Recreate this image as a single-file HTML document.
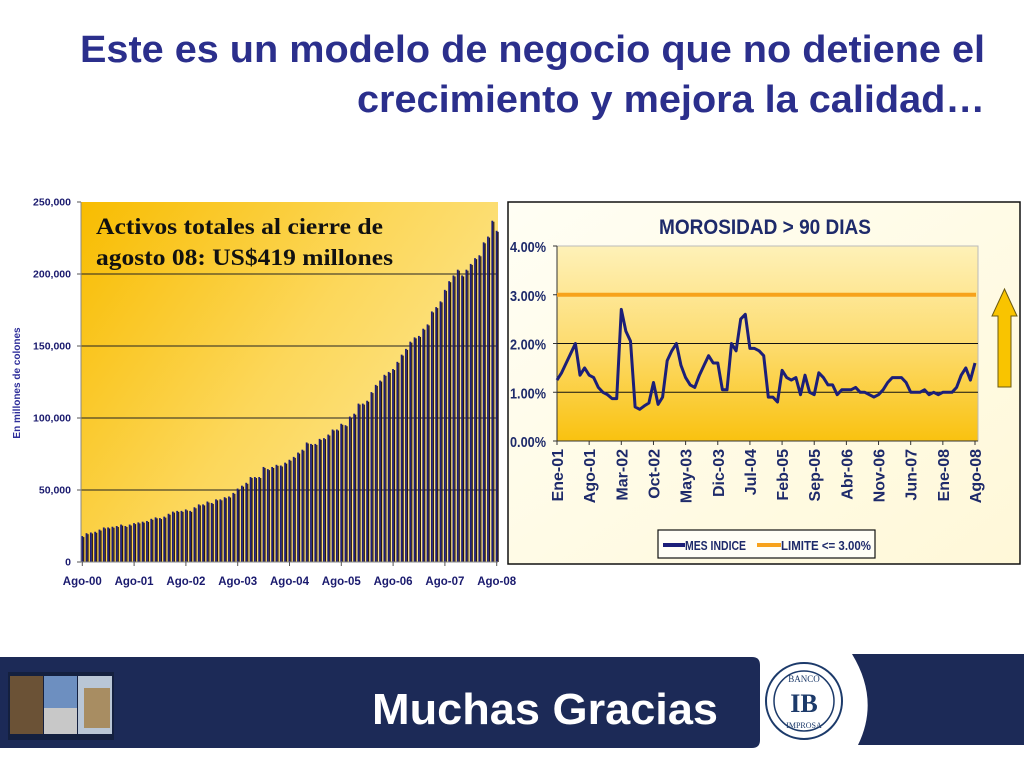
<!DOCTYPE html>
<html><head><meta charset="utf-8">
<style>
body{margin:0;width:1024px;height:768px;overflow:hidden;background:#fff;font-family:"Liberation Sans",sans-serif;position:relative}
</style></head><body>

<svg width="1024" height="768" style="position:absolute;left:0;top:0">
<defs>
<linearGradient id="lg" x1="0" y1="0" x2="1" y2="0.6"><stop offset="0" stop-color="#f8bc00"/><stop offset="0.55" stop-color="#fcd75a"/><stop offset="1" stop-color="#fde690"/></linearGradient>
<linearGradient id="rg" x1="0" y1="0" x2="0" y2="1"><stop offset="0" stop-color="#fef1b8"/><stop offset="0.5" stop-color="#fddc70"/><stop offset="1" stop-color="#f9c210"/></linearGradient>
<linearGradient id="og" x1="0" y1="0" x2="1" y2="1"><stop offset="0" stop-color="#fffef4"/><stop offset="1" stop-color="#fff8d8"/></linearGradient>
</defs>
<text x="985" y="62" text-anchor="end" font-family="Liberation Sans" font-weight="bold" font-size="38" fill="#2b2f8c" textLength="905" lengthAdjust="spacingAndGlyphs">Este es un modelo de negocio que no detiene el</text>
<text x="985" y="112" text-anchor="end" font-family="Liberation Sans" font-weight="bold" font-size="38" fill="#2b2f8c" textLength="628" lengthAdjust="spacingAndGlyphs">crecimiento y mejora la calidad…</text>
<g id="left"></g>
<g id="right"></g>
<polygon points="998,387 1011,387 1011,316 1017,316 1004.5,289 992,316 998,316" fill="#f9c400" stroke="#6b5a10" stroke-width="1"/>
<!-- footer -->
<path d="M0,657 H752 Q760,657 760,665 V740 Q760,748 752,748 H0 Z" fill="#1c2a57"/>
<path d="M852,654 H1024 V745 H858 Q880,700 852,654 Z" fill="#1c2a57"/>
<rect x="8" y="672" width="106" height="68" fill="#14203f"/>
<rect x="10" y="676" width="33" height="58" fill="#6b5236"/>
<rect x="44" y="676" width="33" height="58" fill="#6d8fc0"/>
<rect x="44" y="708" width="33" height="26" fill="#c8c8c8"/>
<rect x="78" y="676" width="34" height="58" fill="#b9c6d6"/>
<rect x="84" y="688" width="26" height="40" fill="#a88d62"/>
<text x="545" y="724" text-anchor="middle" font-family="Liberation Sans" font-weight="bold" font-size="44" fill="#fff" textLength="346" lengthAdjust="spacingAndGlyphs">Muchas Gracias</text>
<g>
<circle cx="804" cy="701" r="38" fill="#fff" stroke="#1c3a6a" stroke-width="2"/>
<circle cx="804" cy="701" r="30" fill="none" stroke="#1c3a6a" stroke-width="1.5"/>
<text x="804" y="682" text-anchor="middle" font-size="9" fill="#1c3a6a" font-family="Liberation Serif">BANCO</text>
<text x="804" y="712" text-anchor="middle" font-size="26" font-weight="bold" fill="#1c3a6a" font-family="Liberation Serif">IB</text>
<text x="804" y="728" text-anchor="middle" font-size="8" fill="#1c3a6a" font-family="Liberation Serif">IMPROSA</text>
</g>
</svg>

<script>
const NS='http://www.w3.org/2000/svg';
function mk(p,tag,a,txt){const e=document.createElementNS(NS,tag);for(const k in a)e.setAttribute(k,a[k]);if(txt!==undefined)e.textContent=txt;p.appendChild(e);return e;}

// ---- Left chart data (thousands of millones de colones) ----
const assetValues=[18,20,20.5,21,22.5,24,24,24.5,25,26,25,26,
27,27.5,28,28.5,30,31,30.5,31.5,33.5,35,35.5,35.5,
36.5,35.5,38,40,40,42,41,43.5,43.5,45,45.5,48,
51,53,55,59,59,59,66,64.5,66,67.5,67,69,
71,73,76,78,83,82,82,85.5,86,88.5,92,92,
96,95,101,103,110,110,112,118,123,126,130,132,
134,139,144,148,153,156,157,162,165,174,177,181,
189,195,199,203,199,203,207,211,213,222,226,237,
230];
const assetYTicks=[0,50,100,150,200,250];
const assetYTickLabels=['0','50,000','100,000','150,000','200,000','250,000'];
const assetXLabels=['Ago-00','Ago-01','Ago-02','Ago-03','Ago-04','Ago-05','Ago-06','Ago-07','Ago-08'];

// ---- Right chart data (%) ----
const morosidad=[1.25,1.4,1.6,1.8,2.0,1.35,1.5,1.35,1.3,1.1,1.0,0.95,
0.87,0.87,2.7,2.25,2.05,0.7,0.65,0.72,0.78,1.2,0.75,0.9,
1.65,1.85,2.0,1.55,1.3,1.15,1.1,1.35,1.55,1.75,1.6,1.6,
1.05,1.05,2.0,1.85,2.5,2.6,1.9,1.9,1.85,1.75,0.9,0.9,
0.8,1.45,1.3,1.25,1.3,0.95,1.35,1.0,0.95,1.4,1.3,1.15,
1.15,0.95,1.05,1.05,1.05,1.1,1.0,1.0,0.95,0.9,0.95,1.05,
1.2,1.3,1.3,1.3,1.2,1.0,1.0,1.0,1.05,0.95,1.0,0.95,
1.0,1.0,1.0,1.1,1.35,1.5,1.25,1.6];
const limite=3.0;
const morYTicks=[0,1,2,3,4];
const morYLabels=['0.00%','1.00%','2.00%','3.00%','4.00%'];
const morXLabels=['Ene-01','Ago-01','Mar-02','Oct-02','May-03','Dic-03','Jul-04','Feb-05','Sep-05','Abr-06','Nov-06','Jun-07','Ene-08','Ago-08'];

// Left chart
(function(){
const g=document.getElementById('left');
const x0=81,x1=498,yT=202,yB=562;
const ys=v=>yB-(v/250)*(yB-yT);
const xs=i=>82.3+i*(496.7-82.3)/(assetValues.length-1);
const bg=mk(g,'rect',{x:x0,y:yT,width:x1-x0,height:yB-yT,fill:'url(#lg)'});

assetYTicks.forEach((t,i)=>{
  if(t>0&&t<250){const l=mk(g,'line',{x1:x0,x2:x1,y1:ys(t),y2:ys(t),stroke:'#222','stroke-width':1});
  }
  mk(g,'line',{x1:x0-4,x2:x0,y1:ys(t),y2:ys(t),stroke:'#555'});
  const tx=mk(g,'text',{x:x0-10,y:ys(t)+3.5,'text-anchor':'end','font-size':10.5,'font-weight':'bold',fill:'#1a1a6e'},assetYTickLabels[i]);
  
});
assetValues.forEach((v,i)=>{
  const x=xs(i);
  const s=mk(g,'rect',{x:x+0.8,y:ys(v)+1,width:1.2,height:yB-ys(v)-1,fill:'#2a1a0a'});
  
  const b=mk(g,'rect',{x:x-1,y:ys(v),width:1.8,height:yB-ys(v),fill:'#1c1d7a'});
  
});
mk(g,'line',{x1:x0,x2:x0,y1:yT,y2:yB,stroke:'#888'});
mk(g,'line',{x1:x0,x2:x1,y1:yB,y2:yB,stroke:'#888'});
assetXLabels.forEach((l,i)=>{
  const x=xs(i*12);
  mk(g,'line',{x1:x,x2:x,y1:yB,y2:yB+4,stroke:'#555'});
  const tx=mk(g,'text',{x:x,y:585,'text-anchor':'middle','font-size':11.5,'font-weight':'bold',fill:'#1a1a6e'},l);
  
});
const yt=mk(g,'text',{x:0,y:0,transform:'translate(20,383) rotate(-90)','text-anchor':'middle','font-size':10,'font-weight':'bold',fill:'#2e2e9a'},'En millones de colones');

const a1=mk(g,'text',{x:96,y:234,'font-family':'Liberation Serif','font-weight':'bold','font-size':23,fill:'#111',textLength:287,lengthAdjust:'spacingAndGlyphs'},'Activos totales al cierre de');

const a2=mk(g,'text',{x:96,y:265,'font-family':'Liberation Serif','font-weight':'bold','font-size':23,fill:'#111',textLength:297,lengthAdjust:'spacingAndGlyphs'},'agosto 08: US$419 millones');

})();

// Right chart
(function(){
const g=document.getElementById('right');
const x0=557,x1=978,yT=246,yB=441;
const ys=v=>yB-(v/4)*(yB-yT);
const xs=i=>x0+i*(975-x0)/(morosidad.length-1);
const ob=mk(g,'rect',{x:508,y:202,width:512,height:362,fill:'url(#og)',stroke:'#111','stroke-width':1.5});

const tt=mk(g,'text',{x:765,y:234,'text-anchor':'middle','font-size':21,'font-weight':'bold',fill:'#1e2a6a',textLength:212,lengthAdjust:'spacingAndGlyphs'},'MOROSIDAD > 90 DIAS');

const pa=mk(g,'rect',{x:x0,y:yT,width:x1-x0,height:yB-yT,fill:'url(#rg)',stroke:'#bbb'});

morYTicks.forEach((t,i)=>{
  if(t===1||t===2){const l=mk(g,'line',{x1:x0,x2:x1,y1:ys(t),y2:ys(t),stroke:'#111','stroke-width':1});
  }
  mk(g,'line',{x1:x0-4,x2:x0,y1:ys(t),y2:ys(t),stroke:'#333'});
  const tx=mk(g,'text',{x:546,y:ys(t)+6,'text-anchor':'end','font-size':15,'font-weight':'bold',fill:'#1e2a6a',textLength:36,lengthAdjust:'spacingAndGlyphs'},morYLabels[i]);
  
});
mk(g,'line',{x1:x0,x2:x0,y1:yT,y2:yB,stroke:'#333'});
mk(g,'line',{x1:x0,x2:x1,y1:yB,y2:yB,stroke:'#333'});
const lim=mk(g,'line',{x1:x0,x2:x1-2,y1:ys(limite),y2:ys(limite),stroke:'#f7a21b','stroke-width':4});

const pts=morosidad.map((v,i)=>xs(i).toFixed(1)+','+ys(v).toFixed(1)).join(' ');
const pl=mk(g,'polyline',{points:pts,fill:'none',stroke:'#1c1f78','stroke-width':3,'stroke-linejoin':'round'});

morXLabels.forEach((l,i)=>{
  const x=xs(i*7);
  mk(g,'line',{x1:x,x2:x,y1:yB,y2:yB+4,stroke:'#333'});
  const tx=mk(g,'text',{x:0,y:0,transform:'translate('+(x+6)+',449) rotate(-90)','text-anchor':'end','font-size':16,'font-weight':'bold',fill:'#1e2a6a'},l);
  
});
const lb=mk(g,'rect',{x:658,y:530,width:217,height:28,fill:'#fffef6',stroke:'#111','stroke-width':1.2});

mk(g,'line',{x1:663,x2:685,y1:545,y2:545,stroke:'#1c1f78','stroke-width':4});
const l1=mk(g,'text',{x:685,y:550,'font-size':13,'font-weight':'bold',fill:'#1e2a6a',textLength:61,lengthAdjust:'spacingAndGlyphs'},'MES INDICE');

mk(g,'line',{x1:757,x2:781,y1:545,y2:545,stroke:'#f7a21b','stroke-width':4});
const l2=mk(g,'text',{x:781,y:550,'font-size':13,'font-weight':'bold',fill:'#1e2a6a',textLength:90,lengthAdjust:'spacingAndGlyphs'},'LIMITE <= 3.00%');

})();
</script>
</body></html>
